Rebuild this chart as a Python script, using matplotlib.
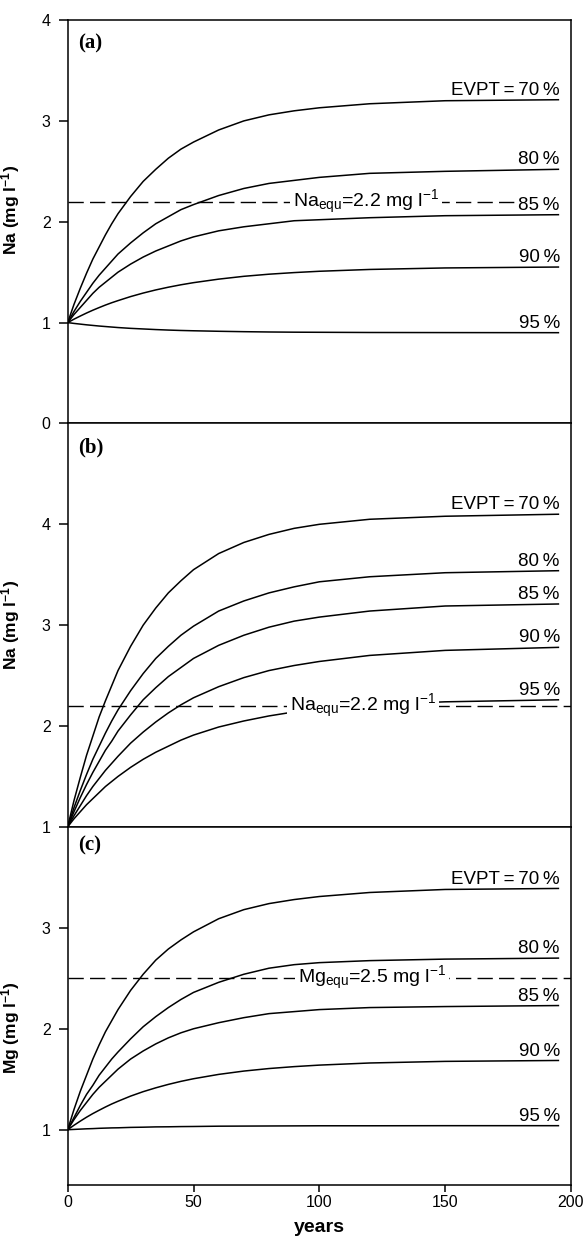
import matplotlib
matplotlib.use('Agg')
import matplotlib.pyplot as plt

plt.rcParams['font.family'] = 'Liberation Sans'
plt.rcParams['mathtext.fontset'] = 'custom'
plt.rcParams['mathtext.rm'] = 'Liberation Sans'
plt.rcParams['mathtext.it'] = 'Liberation Sans:italic'
plt.rcParams['mathtext.bf'] = 'Liberation Sans:bold'

#------------------------------#
# values (years 0-195)
#------------------------------#
years = [0, 2.5, 5, 7.5, 10, 12.5, 15, 17.5, 20, 25, 30, 35, 40, 45, 50, 60, 70, 80, 90, 100, 120, 150, 195]
evpt_labels = ['EVPT\u2009=\u200970\u2009%', '80\u2009%', '85\u2009%', '90\u2009%', '95\u2009%']

# (a) Na
na_a_70 = [1.00, 1.18, 1.34, 1.49, 1.63, 1.75, 1.87, 1.98, 2.08, 2.25, 2.40, 2.52, 2.63, 2.72, 2.79, 2.91, 3.00, 3.06, 3.10, 3.13, 3.17, 3.20, 3.21]
na_a_80 = [1.00, 1.11, 1.21, 1.30, 1.39, 1.47, 1.54, 1.61, 1.68, 1.79, 1.89, 1.98, 2.05, 2.12, 2.17, 2.26, 2.33, 2.38, 2.41, 2.44, 2.48, 2.50, 2.52]
na_a_85 = [1.00, 1.08, 1.15, 1.22, 1.29, 1.35, 1.40, 1.45, 1.50, 1.58, 1.65, 1.71, 1.76, 1.81, 1.85, 1.91, 1.95, 1.98, 2.01, 2.02, 2.04, 2.06, 2.07]
na_a_90 = [1.000, 1.034, 1.065, 1.095, 1.123, 1.149, 1.174, 1.197, 1.218, 1.258, 1.293, 1.324, 1.351, 1.375, 1.396, 1.431, 1.459, 1.480, 1.496, 1.509, 1.527, 1.542, 1.551]
na_a_95 = [1.000, 0.992, 0.985, 0.978, 0.972, 0.966, 0.961, 0.956, 0.951, 0.943, 0.937, 0.931, 0.926, 0.922, 0.919, 0.914, 0.910, 0.907, 0.905, 0.904, 0.902, 0.901, 0.900]

# (b) Na
na_b_70 = [1.00, 1.26, 1.49, 1.71, 1.90, 2.09, 2.25, 2.40, 2.55, 2.79, 3.00, 3.17, 3.32, 3.44, 3.55, 3.71, 3.82, 3.90, 3.96, 4.00, 4.05, 4.08, 4.10]
na_b_80 = [1.00, 1.19, 1.36, 1.52, 1.67, 1.80, 1.93, 2.05, 2.16, 2.35, 2.52, 2.67, 2.79, 2.90, 2.99, 3.14, 3.24, 3.32, 3.38, 3.43, 3.48, 3.52, 3.54]
na_b_85 = [1.00, 1.15, 1.29, 1.42, 1.54, 1.65, 1.76, 1.85, 1.95, 2.11, 2.26, 2.38, 2.49, 2.58, 2.67, 2.80, 2.90, 2.98, 3.04, 3.08, 3.14, 3.19, 3.21]
na_b_90 = [1.00, 1.11, 1.21, 1.31, 1.40, 1.48, 1.56, 1.63, 1.70, 1.83, 1.94, 2.04, 2.13, 2.21, 2.28, 2.39, 2.48, 2.55, 2.60, 2.64, 2.70, 2.75, 2.78]
na_b_95 = [1.00, 1.08, 1.15, 1.22, 1.28, 1.34, 1.40, 1.45, 1.50, 1.59, 1.67, 1.74, 1.80, 1.86, 1.91, 1.99, 2.05, 2.10, 2.14, 2.17, 2.21, 2.24, 2.26]

# (c) Mg
mg_c_70 = [1.00, 1.20, 1.38, 1.54, 1.70, 1.84, 1.97, 2.08, 2.19, 2.38, 2.54, 2.68, 2.79, 2.88, 2.96, 3.09, 3.18, 3.24, 3.28, 3.31, 3.35, 3.38, 3.39]
mg_c_80 = [1.00, 1.12, 1.24, 1.35, 1.44, 1.54, 1.62, 1.70, 1.77, 1.90, 2.02, 2.12, 2.21, 2.29, 2.36, 2.46, 2.54, 2.60, 2.635, 2.655, 2.675, 2.69, 2.70]
mg_c_85 = [1.00, 1.10, 1.19, 1.27, 1.35, 1.42, 1.48, 1.54, 1.60, 1.70, 1.78, 1.85, 1.91, 1.96, 2.00, 2.06, 2.11, 2.15, 2.17, 2.19, 2.21, 2.22, 2.23]
mg_c_90 = [1.000, 1.044, 1.085, 1.124, 1.160, 1.193, 1.225, 1.255, 1.282, 1.333, 1.377, 1.415, 1.449, 1.479, 1.505, 1.548, 1.581, 1.606, 1.625, 1.640, 1.661, 1.677, 1.686]
mg_c_95 = [1.000, 1.003, 1.006, 1.009, 1.011, 1.014, 1.016, 1.018, 1.019, 1.023, 1.025, 1.028, 1.029, 1.031, 1.032, 1.035, 1.036, 1.037, 1.038, 1.039, 1.039, 1.040, 1.040]

equ_values = [2.2, 2.2, 2.5]
equ_labels = [r'Na$_{\rm equ}$=2.2 mg l$^{-1}$', r'Na$_{\rm equ}$=2.2 mg l$^{-1}$',
              r'Mg$_{\rm equ}$=2.5 mg l$^{-1}$']
equ_label_x = [89.7, 88.4, 91.6]
equ_line_end = [195, 200, 200]
equ_label_z = [2.5, 4, 2.5]   # label hides the 95 % curve only in (b)

panel_tags = ['(a)', '(b)', '(c)']
ylabels = [r'Na (mg l$^{\mathbf{-1}}$)', r'Na (mg l$^{\mathbf{-1}}$)', r'Mg (mg l$^{\mathbf{-1}}$)']
ylims = [(0, 4), (1, 5), (0.45, 4)]
yticks = [[0, 1, 2, 3, 4], [1, 2, 3, 4], [1, 2, 3]]
ylabel_pos = [0.53, 0.50, 0.44]
tag_pos = [0.943, 0.941, 0.947]

curves = [[na_a_70, na_a_80, na_a_85, na_a_90, na_a_95],
          [na_b_70, na_b_80, na_b_85, na_b_90, na_b_95],
          [mg_c_70, mg_c_80, mg_c_85, mg_c_90, mg_c_95]]

fig = plt.figure(figsize=(5.87, 12.45), dpi=100)
gs = fig.add_gridspec(3, 1, height_ratios=[403, 403, 358], hspace=0,
                      left=0.1153, right=0.9727, top=0.9839, bottom=0.0480)

for i in range(3):
    ax = fig.add_subplot(gs[i])
    for j, ys in enumerate(curves[i]):
        ax.plot(years, ys, color='k', lw=1.1, zorder=3)
        ax.annotate(evpt_labels[j], xy=(years[-1], ys[-1]), xytext=(1, 3.5),
                    textcoords='offset points', ha='right', va='baseline',
                    fontsize=13.5, zorder=2.5,
                    bbox=dict(boxstyle='square,pad=0.1', fc='white', ec='none'))
    # equilibrium concentration
    ax.plot([0, equ_line_end[i]], [equ_values[i], equ_values[i]], color='k', lw=1.0,
            ls=(0, (11, 4.5)), zorder=2)
    ax.text(equ_label_x[i], equ_values[i], equ_labels[i], ha='left', va='center',
            fontsize=14, zorder=equ_label_z[i],
            bbox=dict(boxstyle='square,pad=0.15', fc='white', ec='none'))

    ax.text(0.02, tag_pos[i], panel_tags[i], transform=ax.transAxes, va='center',
            fontfamily='Liberation Serif', fontweight='bold', fontsize=15)

    ax.set_xlim(0, 200)
    ax.set_ylim(*ylims[i])
    ax.set_yticks(yticks[i])
    ax.set_ylabel(ylabels[i], fontsize=12.5, fontweight='bold')
    ax.yaxis.set_label_coords(-0.09, ylabel_pos[i])
    ax.tick_params(axis='y', direction='out', length=6.7, width=1.1, pad=5.5, labelsize=11.5)
    for s in ax.spines.values():
        s.set_linewidth(1.1)
    if i < 2:
        ax.tick_params(axis='x', bottom=False, labelbottom=False)
    else:
        ax.set_xticks([0, 50, 100, 150, 200])
        ax.tick_params(axis='x', direction='out', length=5, width=1.1, pad=2, labelsize=11.5)
        ax.set_xlabel('years', fontsize=14, fontweight='bold')
        ax.xaxis.set_label_coords(0.5, -0.095)

fig.savefig('out.png', dpi=100)
